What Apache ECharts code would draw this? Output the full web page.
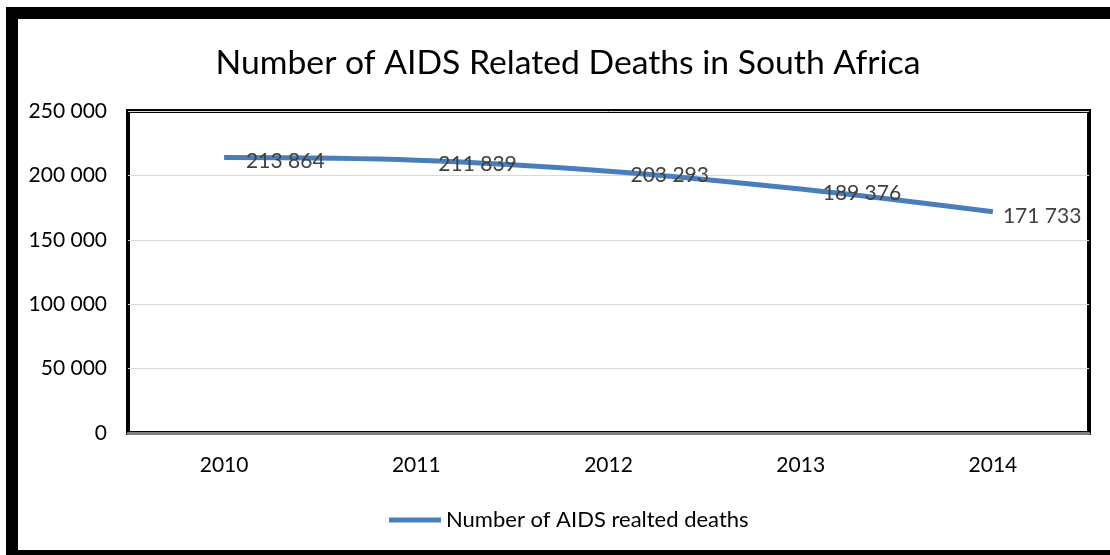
<!DOCTYPE html>
<html>
<head>
<meta charset="utf-8">
<style>
  html, body { margin: 0; padding: 0; background: #fff; overflow: hidden; width: 1110px; height: 555px; }
  #chart { width: 1110px; height: 555px; }
</style>
<script src="https://cdn.jsdelivr.net/npm/echarts@6/dist/echarts.min.js"></script>
</head>
<body>
<div id="chart"></div>
<script>
// Annual AIDS related deaths, South Africa
const years = ['2010', '2011', '2012', '2013', '2014'];
const deaths = [213864, 211839, 203293, 189376, 171733];
const seriesName = 'Number of AIDS realted deaths';
const titleText = 'Number of AIDS Related Deaths in South Africa';

const FONT = 'Lato, "Open Sans", sans-serif';

// thousands grouped with a space: 213864 -> "213 864"
function spaced(v) {
  return String(v).replace(/\B(?=(\d{3})+(?!\d))/g, ' ');
}

const chart = echarts.init(document.getElementById('chart'), null, {
  renderer: 'canvas', width: 1110, height: 555
});

// heavy outer frame: top, left and bottom bands
const frame = [
  { x: 6, y: 7, width: 1104, height: 12 },
  { x: 6, y: 7, width: 12, height: 548 },
  { x: 6, y: 550, width: 1104, height: 5 }
].map(r => ({
  type: 'rect', silent: true, z: 100,
  shape: r,
  style: { fill: '#000' }
}));

chart.setOption({
  backgroundColor: '#ffffff',
  animation: false,
  textStyle: { fontFamily: FONT },
  title: {
    text: titleText,
    left: 563,
    textAlign: 'center',
    top: 41,
    textStyle: { fontFamily: FONT, fontSize: 33.7, fontWeight: 'normal', color: '#000' }
  },
  graphic: frame,
  grid: {
    left: 128, right: 21, top: 111, bottom: 122,
    show: true,
    borderColor: '#000',
    borderWidth: 4,
    backgroundColor: 'transparent'
  },
  legend: {
    bottom: 19,
    left: 384,
    icon: 'rect',
    itemWidth: 52,
    itemHeight: 5,
    textStyle: { fontFamily: FONT, fontSize: 22, color: '#000' },
    data: [seriesName]
  },
  xAxis: {
    type: 'category',
    data: years,
    boundaryGap: true,
    axisTick: { show: false },
    axisLine: { show: true, lineStyle: { color: '#7f7f7f', width: 3 } },
    axisLabel: { margin: 22, fontFamily: FONT, fontSize: 21, color: '#000' },
    splitLine: { show: false }
  },
  yAxis: {
    type: 'value',
    min: 0,
    max: 250000,
    interval: 50000,
    axisLine: { show: false },
    axisTick: { show: false },
    axisLabel: {
      margin: 21,
      fontFamily: FONT, fontSize: 21, color: '#000',
      formatter: spaced
    },
    splitLine: { show: true, lineStyle: { color: '#d9d9d9', width: 1 } }
  },
  series: [
    {
      name: seriesName,
      type: 'line',
      data: deaths.map((v, i) => i === deaths.length - 1
        ? { value: v, label: { distance: 10 } }
        : v),
      smooth: 0.35,
      showSymbol: true,
      symbol: 'circle',
      symbolSize: 0,
      lineStyle: { color: '#4a7ebb', width: 5, cap: 'butt' },
      itemStyle: { color: '#4a7ebb' },
      label: {
        show: true,
        position: 'right',
        distance: 22,
        offset: [0, 4],
        fontFamily: FONT,
        fontSize: 21,
        color: '#404040',
        formatter: p => spaced(p.value)
      },
      z: 3
    }
  ]
});
</script>
</body>
</html>
